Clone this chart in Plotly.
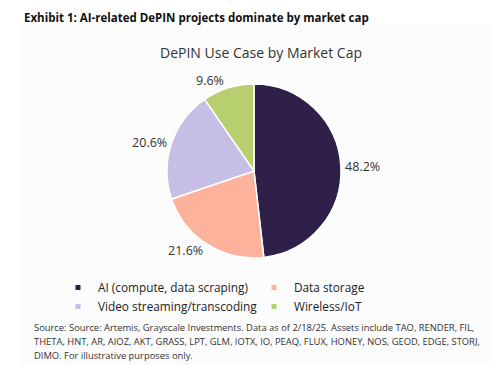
import plotly.graph_objects as go

categories = ["AI (compute, data scraping)", "Data storage", "Video streaming/transcoding", "Wireless/IoT"]
shares = [48.2, 21.6, 20.6, 9.6]
colors = ["#2E2049", "#FDB39B", "#C6BEE4", "#B8CF70"]

source_lines = [
    "Source: Source: Artemis, Grayscale Investments. Data as of 2/18/25. Assets include TAO, RENDER, FIL,",
    "THETA, HNT, AR, AIOZ, AKT, GRASS, LPT, GLM, IOTX, IO, PEAQ, FLUX, HONEY, NOS, GEOD, EDGE, STORJ,",
    "DIMO. For illustrative purposes only.",
]

OFF = 8  # page body margin
W, H = 499 - OFF, 365 - OFF
FONT = "Open Sans"


def px(x):
    return (x - OFF) / W


def py(y):
    return 1 - (y - OFF) / H


fig = go.Figure()

cx, cy, r = 254, 171, 87
fig.add_trace(go.Pie(
    labels=categories, values=shares, sort=False, direction="clockwise", rotation=0,
    marker=dict(colors=colors, line=dict(color="white", width=1.5)),
    texttemplate="%{value:.1f}%", textposition="outside",
    textfont=dict(family=FONT, size=12.5, color="#333333"),
    showlegend=False, hoverinfo="label+percent",
    domain=dict(x=[px(cx - r), px(cx + r)], y=[py(cy + r), py(cy - r)]),
))

for c, col in zip(categories, colors):
    fig.add_trace(go.Scatter(
        x=[None], y=[None], mode="markers", name=c,
        marker=dict(symbol="square", size=5, color=col),
    ))

annotations = [
    dict(text="<b>Exhibit 1: AI-related DePIN projects dominate by market cap</b>",
         x=px(22), y=1, xref="paper", yref="paper", xanchor="left", yanchor="top",
         showarrow=False, font=dict(family=FONT, size=11.5, color="#111111")),
    dict(text="DePIN Use Case by Market Cap",
         x=px(261), y=py(52), xref="paper", yref="paper", xanchor="center", yanchor="middle",
         showarrow=False, font=dict(family=FONT, size=14, color="#333333")),
]
for i, line in enumerate(source_lines):
    annotations.append(dict(
        text=line, x=px(32), y=py(327 + 14 * i), xref="paper", yref="paper",
        xanchor="left", yanchor="middle", align="left", showarrow=False,
        font=dict(family=FONT, size=9.4, color="#333333")))

fig.update_layout(
    width=W, height=H,
    margin=dict(l=0, r=0, t=0, b=0),
    paper_bgcolor="white", plot_bgcolor="rgba(0,0,0,0)",
    xaxis=dict(visible=False), yaxis=dict(visible=False),
    font=dict(family=FONT, color="#222222"),
    legend=dict(
        orientation="h", x=px(58), y=py(273), xanchor="left", yanchor="top",
        entrywidth=151, entrywidthmode="pixels", itemwidth=30,
        font=dict(family=FONT, size=11.8, color="#222222"),
        tracegroupgap=0, bgcolor="rgba(0,0,0,0)",
    ),
    shapes=[dict(type="rect", xref="paper", yref="paper", x0=px(20), x1=1, y0=0, y1=py(24),
                 fillcolor="#FCFCFC", line=dict(width=0), layer="below")],
    annotations=annotations,
)

fig.write_html("out.html")
